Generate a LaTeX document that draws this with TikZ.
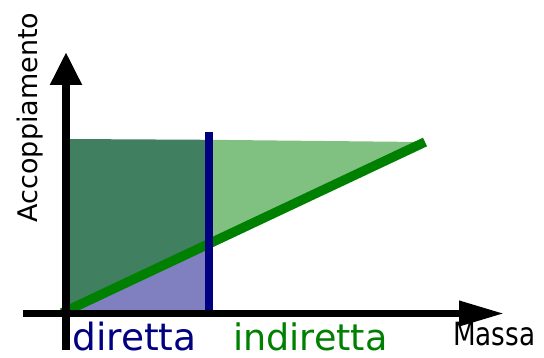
\documentclass[tikz,border=0pt]{standalone}
\usepackage{fontspec}
\setmainfont{DejaVu Sans}
\usetikzlibrary{arrows.meta}
\definecolor{darkgr}{HTML}{408060}
\definecolor{lightgr}{HTML}{80C080}
\definecolor{purp}{HTML}{8080C0}
\definecolor{navy}{HTML}{000080}
\definecolor{gline}{HTML}{008000}
\tikzset{
  axis/.style={draw=black},
  lbl/.style={inner sep=0pt, anchor=base west},
}
\begin{document}
\begin{tikzpicture}[x=1pt,y=-1pt]
\useasboundingbox (0,0) rectangle (544,358);
% coordinates
\coordinate (O) at (62,313);
\coordinate (E) at (425,142);
\coordinate (B) at (209,243.8);
\coordinate (TL) at (66,139);
\coordinate (TB) at (209,139.8);
\coordinate (TR) at (421,142);
% fills
\fill[darkgr] (TL) -- (TB) -- (209,313) -- (66,313) -- cycle;
\fill[purp] (O) -- (209,313) -- (B) -- cycle;
\fill[lightgr] (TB) -- (TR) -- (E) -- (B) -- cycle;
% green line
\draw[gline, line width=9.5pt] (O) -- (E);
% blue line
\coordinate (bt) at (209,132);
\coordinate (bb) at (209,317);
\draw[navy, line width=7.5pt] (bt) -- (bb);
% axes
\coordinate (ya0) at (66,350);
\coordinate (ya1) at (66,52);
\coordinate (xa0) at (23,313.5);
\coordinate (xa1) at (504,313.5);
\draw[axis, line width=8pt, -{Triangle[length=33pt,width=30pt]}] (ya0) -- (ya1);
\draw[axis, line width=7pt, -{Triangle[length=45pt,width=24pt]}] (xa0) -- (xa1);
% labels
\node[lbl, text=navy, font=\fontsize{37.5}{40}\selectfont] (dir) at (72,350) {diretta};
\node[lbl, text=gline, font=\fontsize{36.5}{40}\selectfont] (ind) at (233,350) {indiretta};
\node[lbl, font=\fontsize{32}{34}\selectfont, xscale=0.82] (mas) at (453,345) {Massa};
\node[inner sep=0pt, anchor=base, rotate=90, font=\fontsize{27}{30}\selectfont] (acc) at (37,117.5) {Accoppiamento};
\end{tikzpicture}
\end{document}
